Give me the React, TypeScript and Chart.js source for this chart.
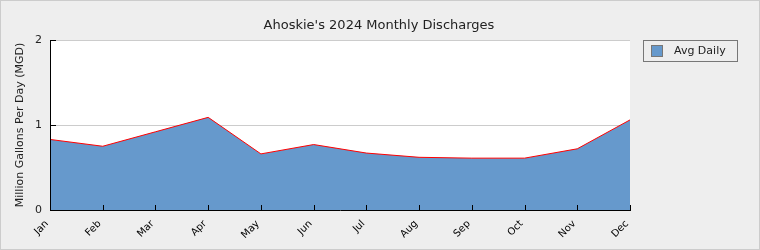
import React, { useEffect, useRef } from "react";
import { Chart, registerables } from "chart.js";

Chart.register(...registerables);

const chartTitle = "Ahoskie's 2024 Monthly Discharges";
const yAxisTitle = "Million Gallons Per Day (MGD)";
const seriesLabel = "Avg Daily";
const months = ["Jan", "Feb", "Mar", "Apr", "May", "Jun", "Jul", "Aug", "Sep", "Oct", "Nov", "Dec"];
const avgDaily = [0.83, 0.75, 0.92, 1.09, 0.66, 0.77, 0.67, 0.62, 0.61, 0.61, 0.72, 1.06];
const yTickValues = [0, 1, 2];

const FONT = "'DejaVu Sans', sans-serif";
const TEXT = "#222";
const FILL = "#6699cc";

const decor = {
  id: "decor",
  beforeDraw(chart: any) {
    const { ctx, chartArea: a } = chart;
    ctx.save();
    ctx.fillStyle = "#fff";
    ctx.fillRect(a.left, a.top, a.right - a.left, a.bottom - a.top);
    ctx.restore();
  },
  afterDraw(chart: any) {
    const { ctx, chartArea: a, scales } = chart;
    const xs = scales.x;
    const ys = scales.y;
    ctx.save();
    ctx.strokeStyle = "#000";
    ctx.lineWidth = 1;
    ctx.beginPath();
    ctx.moveTo(a.left + 0.5, a.top);
    ctx.lineTo(a.left + 0.5, a.bottom + 1);
    ctx.moveTo(a.left, a.bottom + 0.5);
    ctx.lineTo(a.right + 1, a.bottom + 0.5);
    months.forEach((_, i) => {
      const px = Math.round(xs.getPixelForValue(i)) + 0.5;
      ctx.moveTo(px, a.bottom);
      ctx.lineTo(px, a.bottom - 5);
    });
    yTickValues.forEach((v) => {
      const py = Math.round(ys.getPixelForValue(v)) + 0.5;
      ctx.moveTo(a.left, py);
      ctx.lineTo(a.left + 6, py);
    });
    ctx.stroke();

    ctx.fillStyle = TEXT;
    ctx.font = `13px ${FONT}`;
    ctx.textAlign = "center";
    ctx.textBaseline = "alphabetic";
    ctx.fillText(chartTitle, 378, 28);

    ctx.strokeStyle = "#777";
    ctx.strokeRect(642.5, 39.5, 94, 21);
    ctx.fillStyle = FILL;
    ctx.fillRect(650.5, 44.5, 11, 11);
    ctx.strokeRect(650.5, 44.5, 11, 11);
    ctx.fillStyle = TEXT;
    ctx.font = `11px ${FONT}`;
    ctx.textAlign = "left";
    ctx.textBaseline = "middle";
    ctx.fillText(seriesLabel, 673, 50);
    ctx.restore();
  },
};

export default function App() {
  const ref = useRef<HTMLCanvasElement | null>(null);
  useEffect(() => {
    if (!ref.current) return;
    const chart = new Chart(ref.current, {
      type: "line",
      data: {
        labels: months,
        datasets: [
          {
            label: seriesLabel,
            data: avgDaily,
            borderColor: "#ff0000",
            borderWidth: 1,
            backgroundColor: FILL,
            fill: "origin",
            pointRadius: 0,
            tension: 0,
          },
        ],
      },
      options: {
        animation: false,
        responsive: false,
        devicePixelRatio: 1,
        layout: { padding: { left: 0, top: 39, right: 129, bottom: 0 } },
        plugins: {
          legend: { display: false },
          title: { display: false },
          tooltip: { enabled: false },
        },
        scales: {
          x: {
            type: "category",
            offset: false,
            grid: { display: false },
            border: { display: false },
            ticks: {
              autoSkip: false,
              maxRotation: 45,
              minRotation: 45,
              padding: 0,
              labelOffset: -3,
              color: "#000",
              font: { family: FONT, size: 10 },
            },
            afterFit(scale: any) {
              scale.height = 39;
            },
          },
          y: {
            min: 0,
            max: 2,
            grid: {
              drawTicks: false,
              color: (c: any) => (c.tick && c.tick.value === 0 ? "rgba(0,0,0,0)" : "#cccccc"),
            },
            border: { display: false },
            ticks: {
              stepSize: 1,
              padding: 8,
              color: TEXT,
              font: { family: FONT, size: 11 },
            },
            title: {
              display: true,
              text: yAxisTitle,
              color: TEXT,
              font: { family: FONT, size: 11 },
              padding: { top: 12.4, bottom: 0 },
            },
            afterFit(scale: any) {
              scale.width = 49;
            },
          },
        },
      },
      plugins: [decor],
    });
    return () => chart.destroy();
  }, []);

  return (
    <div
      style={{
        position: "absolute",
        left: 0,
        top: 0,
        width: 760,
        height: 250,
        boxSizing: "border-box",
        border: "1px solid #cccccc",
        background: "#eeeeee",
      }}
    >
      <canvas ref={ref} width={758} height={248} style={{ display: "block", width: 758, height: 248 }} />
    </div>
  );
}
